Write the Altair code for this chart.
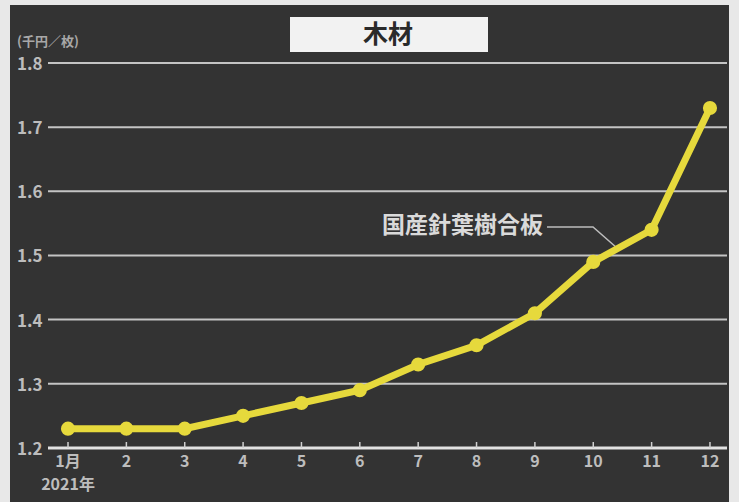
import altair as alt
import pandas as pd

# Monthly price of domestic softwood plywood, 2021 (thousand yen per sheet)
months = [1, 2, 3, 4, 5, 6, 7, 8, 9, 10, 11, 12]
month_labels = ["1月", "2", "3", "4", "5", "6", "7", "8", "9", "10", "11", "12"]
prices = [1.23, 1.23, 1.23, 1.25, 1.27, 1.29, 1.33, 1.36, 1.41, 1.49, 1.54, 1.73]
y_ticks = [1.2, 1.3, 1.4, 1.5, 1.6, 1.7, 1.8]
y_tick_labels = ["1.2", "1.3", "1.4", "1.5", "1.6", "1.7", "1.8"]

series = pd.DataFrame({"month": months, "price": prices})
xt = pd.DataFrame({"month": months, "label": month_labels})
yt = pd.DataFrame({"v": y_ticks, "label": y_tick_labels})

W, H = 719, 497
FONT = "Noto Sans CJK JP"
LABEL = "#bdbdbd"
YELLOW = "#e6d93c"
xs = alt.Scale(domain=[0.006, 12.326], nice=False, zero=False)
ys = alt.Scale(domain=[1.1156, 1.8906], nice=False, zero=False)

grid = alt.Chart(yt[yt.v > 1.25]).mark_rule(color="#c4c4c4", strokeWidth=2).encode(
    y=alt.Y("v:Q", scale=ys, axis=None), x=alt.value(38), x2=alt.value(717)
)
baseline = alt.Chart(yt[yt.v < 1.25]).mark_rule(color="#e2e2e2", strokeWidth=3).encode(
    y=alt.Y("v:Q", scale=ys, axis=None), x=alt.value(38), x2=alt.value(717)
)
ylabels = alt.Chart(yt).mark_text(
    align="left", baseline="middle", font=FONT, fontSize=17, fontWeight="bold", color=LABEL, dy=2
).encode(y=alt.Y("v:Q", scale=ys, axis=None), x=alt.value(7), text="label:N")

ticks = alt.Chart(xt).mark_rule(color="#d0d0d0", strokeWidth=1.5).encode(
    x=alt.X("month:Q", scale=xs, axis=None), y=alt.value(437), y2=alt.value(443)
)
xlabels = alt.Chart(xt).mark_text(
    align="center", baseline="middle", font=FONT, fontSize=16, fontWeight="bold", color=LABEL
).encode(x=alt.X("month:Q", scale=xs, axis=None), y=alt.value(457), text="label:N")

line = alt.Chart(series).mark_line(color=YELLOW, strokeWidth=7).encode(
    x=alt.X("month:Q", scale=xs, axis=None), y=alt.Y("price:Q", scale=ys, axis=None)
)
points = alt.Chart(series).mark_point(
    filled=True, color=YELLOW, size=200, opacity=1
).encode(x=alt.X("month:Q", scale=xs, axis=None), y=alt.Y("price:Q", scale=ys, axis=None))

leader = alt.Chart(pd.DataFrame({"px": [537, 583, 607], "py": [222, 222, 243]})).mark_line(
    color="#bdbdbd", strokeWidth=1.5
).encode(x=alt.X("px:Q", scale=None), y=alt.Y("py:Q", scale=None))
note = alt.Chart(pd.DataFrame({"t": ["国産針葉樹合板"]})).mark_text(
    align="right", baseline="middle", font=FONT, fontSize=23, fontWeight="bold", color="#dadada"
).encode(text="t:N", x=alt.value(533), y=alt.value(221))

unit = alt.Chart(pd.DataFrame({"t": ["(千円／枚)"]})).mark_text(
    align="left", baseline="middle", font=FONT, fontSize=13, fontWeight="bold", color="#a8a8a8"
).encode(text="t:N", x=alt.value(7), y=alt.value(37))
year = alt.Chart(pd.DataFrame({"t": ["2021年"], "month": [1]})).mark_text(
    align="center", baseline="middle", font=FONT, fontSize=16, fontWeight="bold", color=LABEL
).encode(text="t:N", x=alt.X("month:Q", scale=xs, axis=None), y=alt.value(480))

title_box = alt.Chart(pd.DataFrame({"t": ["木材"]})).mark_rect(color="#f2f2f2").encode(
    x=alt.value(280), x2=alt.value(478), y=alt.value(12), y2=alt.value(47)
)
title = alt.Chart(pd.DataFrame({"t": ["木材"]})).mark_text(
    align="center", baseline="middle", font=FONT, fontSize=25, fontWeight="bold", color="#2a2a2a"
).encode(text="t:N", x=alt.value(378), y=alt.value(30))

chart = (
    alt.layer(grid, baseline, ticks, ylabels, xlabels, leader, note, line, points,
              unit, year, title_box, title)
    .properties(width=W, height=H, padding={"left": 10, "top": 5, "right": 10, "bottom": 0},
                autosize=alt.AutoSizeParams(type="none"), background="#e8e8e8")
    .configure_view(fill="#333333", stroke=None)
)

chart.save("out.html", embed_options={"renderer": "svg", "actions": False})
